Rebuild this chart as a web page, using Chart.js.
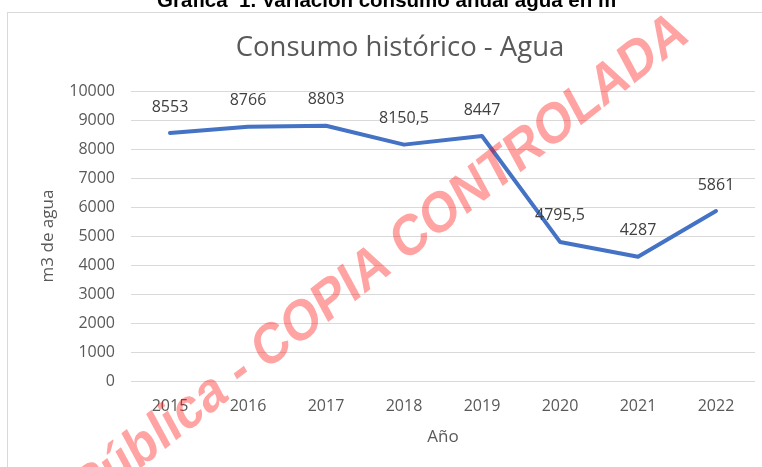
<!DOCTYPE html>
<html>
<head>
<meta charset="utf-8">
<script src="https://cdn.jsdelivr.net/npm/chart.js@4/dist/chart.umd.min.js"></script>
<style>
  html, body { margin: 0; padding: 0; background: #fff; }
  #wrap { position: relative; width: 762px; height: 467px; }
</style>
</head>
<body>
<div id="wrap"><canvas id="chart" width="762" height="467"></canvas></div>
<script>
// data
const years = ['2015', '2016', '2017', '2018', '2019', '2020', '2021', '2022'];
const consumo = [8553, 8766, 8803, 8150.5, 8447, 4795.5, 4287, 5861];
const yTicks = [0, 1000, 2000, 3000, 4000, 5000, 6000, 7000, 8000, 9000, 10000];

const caption = 'Gráfica  1. Variación consumo anual agua en m';
const watermark = 'Pública - COPIA CONTROLADA';

const FONT = "'Open Sans', sans-serif";

// frame + cut-off caption behind the chart, watermark on top
const decor = {
  id: 'decor',
  beforeDraw(chart) {
    const ctx = chart.ctx;
    ctx.save();
    ctx.fillStyle = '#fff';
    ctx.fillRect(0, 0, chart.width, chart.height);
    ctx.strokeStyle = '#d9d9d9';
    ctx.lineWidth = 1;
    ctx.strokeRect(7.5, 12.5, 820, 500);
    ctx.fillStyle = '#000';
    ctx.font = "bold 20.5px 'Liberation Sans', Arial, sans-serif";
    ctx.textAlign = 'left';
    ctx.textBaseline = 'alphabetic';
    ctx.fillText(caption, 157, 7);
    ctx.restore();
  },
  afterDatasetsDraw(chart) {
    const ctx = chart.ctx;
    const meta = chart.getDatasetMeta(0);
    ctx.save();
    ctx.font = '16px ' + FONT;
    ctx.fillStyle = '#404040';
    ctx.textAlign = 'center';
    ctx.textBaseline = 'middle';
    meta.data.forEach((pt, i) => {
      const txt = String(consumo[i]).replace('.', ',');
      ctx.fillText(txt, pt.x, pt.y - 26);
    });
    ctx.restore();
  },
  afterDraw(chart) {
    // stamp is rotated and a bit stretched vertically, as in the scanned page
    const ctx = chart.ctx;
    ctx.save();
    ctx.translate(690, 40);
    ctx.scale(1, 1.2);
    ctx.rotate(-33 * Math.PI / 180);
    ctx.font = "bold 48px 'Liberation Sans', Arial, sans-serif";
    ctx.fillStyle = 'rgba(255, 0, 0, 0.36)';
    ctx.textAlign = 'right';
    ctx.textBaseline = 'alphabetic';
    ctx.fillText(watermark, 0, 0);
    ctx.restore();
  }
};

new Chart(document.getElementById('chart'), {
  type: 'line',
  data: {
    labels: years,
    datasets: [{
      label: 'Consumo',
      data: consumo,
      borderColor: '#4472c4',
      backgroundColor: '#4472c4',
      borderWidth: 4,
      borderJoinStyle: 'round',
      borderCapStyle: 'round',
      pointRadius: 0,
      tension: 0,
      fill: false
    }]
  },
  options: {
    responsive: false,
    animation: false,
    devicePixelRatio: 1,
    layout: { padding: { top: 32, left: 45, right: 7, bottom: 10 } },
    plugins: {
      legend: { display: false },
      tooltip: { enabled: false },
      title: {
        display: true,
        text: 'Consumo histórico - Agua',
        color: '#595959',
        font: { family: FONT, size: 27.5, weight: 'normal', lineHeight: 1.2 },
        padding: { top: 0, bottom: 26 }
      }
    },
    scales: {
      x: {
        offset: true,
        grid: { display: false },
        border: { display: false },
        ticks: { color: '#595959', font: { family: FONT, size: 16 }, padding: 8, maxRotation: 0 },
        title: {
          display: true,
          text: 'Año',
          color: '#595959',
          font: { family: FONT, size: 17 },
          padding: { top: 0, bottom: 10 }
        },
        afterFit(scale) { scale.height = 76; }
      },
      y: {
        min: 0,
        max: 10000,
        afterBuildTicks(scale) { scale.ticks = yTicks.map(v => ({ value: v })); },
        grid: { color: '#d9d9d9', lineWidth: 1, drawTicks: false },
        border: { display: false },
        ticks: {
          color: '#595959',
          font: { family: FONT, size: 16 },
          padding: 16,
          callback: (v) => String(v)
        },
        title: {
          display: true,
          text: 'm3 de agua',
          color: '#595959',
          font: { family: FONT, size: 17, lineHeight: 0.2 },
          padding: { top: 1, bottom: 0 }
        },
        afterFit(scale) { scale.width = 86; }
      }
    }
  },
  plugins: [decor]
});
</script>
</body>
</html>
